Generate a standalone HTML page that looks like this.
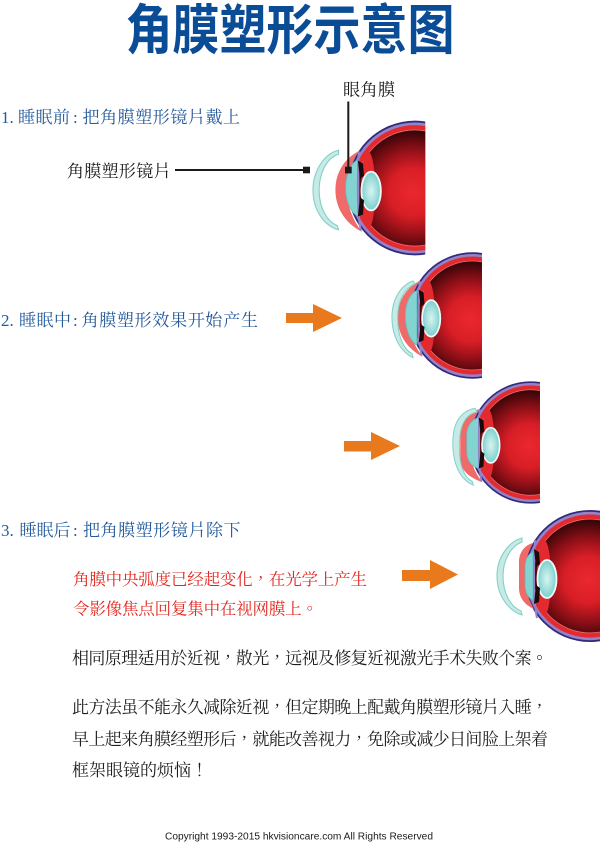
<!DOCTYPE html>
<html>
<head>
<meta charset="utf-8">
<style>
html,body{margin:0;padding:0;background:#fff;}
svg{display:block;}
</style>
</head>
<body>
<svg width="600" height="844" viewBox="0 0 600 844" xmlns="http://www.w3.org/2000/svg">
<defs>
  <radialGradient id="inner" gradientUnits="userSpaceOnUse" cx="-2" cy="4" r="62">
    <stop offset="0" stop-color="#ea282e"/>
    <stop offset="0.38" stop-color="#d81e26"/>
    <stop offset="0.68" stop-color="#8e0f17"/>
    <stop offset="1" stop-color="#2c0406"/>
  </radialGradient>
  <radialGradient id="lensg" cx="0.5" cy="0.5" r="0.5">
    <stop offset="0" stop-color="#d8f4f1"/>
    <stop offset="0.55" stop-color="#a6e1de"/>
    <stop offset="1" stop-color="#78cfcc"/>
  </radialGradient>
  <clipPath id="half" clipPathUnits="userSpaceOnUse">
    <rect x="-200" y="-100" width="210" height="200"/>
  </clipPath>
  <g id="gback">
    <circle r="66" fill="#302b7b"/>
    <circle r="64.2" fill="#9583c9"/>
    <circle r="61.6" fill="#e22a2f"/>
    <circle r="57.3" fill="#f06a6a"/>
    <circle r="56.5" fill="url(#inner)"/>
  </g>
  <g id="gfront">
    <ellipse cx="-46" cy="2" rx="7" ry="38" fill="#e22a2f"/>
    <path d="M-55,-36 C-56,-26 -56,-14 -56,0 C-56,14 -56,28 -53,42" fill="none" stroke="#9583c9" stroke-width="2"/>
    <ellipse cx="-43" cy="3" rx="9.5" ry="19" fill="url(#lensg)" stroke="#eefaf8" stroke-width="1.8"/>
    <path d="M-56,-27 L-51,-24 L-50,-12 L-54,-9 Z M-54,9 L-50,12 L-51,26 L-56,28 Z" fill="#1a0a0c"/>
  </g>
</defs>

<!-- Title -->
<text x="125.5" y="49" font-family="'Noto Sans CJK SC',sans-serif" font-weight="700" font-size="54" fill="#0b4c97" textLength="329" lengthAdjust="spacingAndGlyphs">角膜塑形示意图</text>

<!-- Headings -->
<g font-family="'Liberation Serif','Noto Serif CJK TC',serif" font-size="17" fill="#245a9c">
  <text x="1" y="123">1.</text>
  <text x="18" y="123" textLength="52">睡眠前</text>
  <text x="73" y="123">:</text>
  <text x="82.5" y="123" textLength="157.5">把角膜塑形镜片戴上</text>

  <text x="1" y="326">2.</text>
  <text x="19" y="326" textLength="52">睡眠中</text>
  <text x="73" y="326">:</text>
  <text x="81.5" y="326" textLength="176.5">角膜塑形效果开始产生</text>

  <text x="1" y="536">3.</text>
  <text x="19.5" y="536" textLength="51">睡眠后</text>
  <text x="73" y="536">:</text>
  <text x="83" y="536" textLength="157.5">把角膜塑形镜片除下</text>
</g>

<!-- Labels -->
<g font-family="'Liberation Serif','Noto Serif CJK TC',serif" font-size="17" fill="#1a1a1a">
  <text x="343" y="95.5" textLength="52">眼角膜</text>
  <text x="67" y="177" textLength="103.5">角膜塑形镜片</text>
</g>

<!-- Eye 1 -->
<g transform="translate(415,188) scale(1.02)">
  <g clip-path="url(#half)">
    <use href="#gback"/>
    <path d="M-55,-36 C-66,-31 -78,-18 -78,2 C-78,22 -66,36 -52,43 A66 66 0 0 1 -55,-36 Z" fill="#ef6a68"/>
    <path d="M-55,-28 C-62,-26 -68,-14 -68,0 C-68,14 -62,26 -55,28 Z" fill="#83d3d0" stroke="#62c0bd" stroke-width="0.8"/>
    <use href="#gfront"/>
    <path d="M-75,-37 C-88,-34 -100,-18 -100,2 C-100,22 -89,37 -75,41 L-76,37 C-86,33 -94,20 -94,2 C-94,-15 -86,-30 -75,-33 Z" fill="#c6ebe6" stroke="#86cfc7" stroke-width="1.1"/>
  </g>
</g>

<!-- Eye 2 -->
<g transform="translate(472.4,315.5) scale(0.958)">
  <g clip-path="url(#half)">
    <use href="#gback"/>
    <path d="M-55,-36 C-66,-31 -78,-18 -78,2 C-78,22 -66,36 -52,43 A66 66 0 0 1 -55,-36 Z" fill="#ef6a68"/>
    <path d="M-58,-26 C-64,-24 -70,-14 -70,0 C-70,14 -65,27 -58,31 Z" fill="#83d3d0" stroke="#62c0bd" stroke-width="0.8"/>
    <use href="#gfront"/>
    <path d="M-62,-36 C-74,-32 -84,-18 -84,2 C-84,22 -75,38 -62,44 L-63,40 C-72,35 -78,22 -78,2 C-78,-16 -71,-28 -60,-33 Z" fill="#c6ebe6" stroke="#86cfc7" stroke-width="1.1"/>
  </g>
</g>

<!-- Eye 3 -->
<g transform="translate(530.7,442.5) scale(0.927)">
  <g clip-path="url(#half)">
    <use href="#gback"/>
    <path d="M-55,-36 C-66,-33 -76,-28 -76,-16 L-76,18 C-76,30 -66,38 -52,43 A66 66 0 0 1 -55,-36 Z" fill="#ef6a68"/>
    <path d="M-55,-27 C-63,-26 -69,-18 -69,-8 L-69,10 C-69,20 -63,27 -55,28 Z" fill="#83d3d0" stroke="#62c0bd" stroke-width="0.8"/>
    <use href="#gfront"/>
    <path d="M-60,-37 C-75,-34 -84,-22 -84,0 C-84,24 -76,40 -62,46 L-63,42 C-73,37 -77,24 -77,4 C-77,-18 -71,-30 -58,-33 Z" fill="#c6ebe6" stroke="#86cfc7" stroke-width="1.1"/>
  </g>
</g>

<!-- Eye 4 -->
<g transform="translate(590,576) scale(1.0)">
  <g clip-path="url(#half)">
    <use href="#gback"/>
    <path d="M-57,-33 C-65,-31 -71,-24 -71,-14 L-71,12 C-71,22 -65,29 -56,33 A66 66 0 0 1 -57,-33 Z" fill="#ef6a68"/>
    <path d="M-57,-24 C-62,-22 -65,-16 -65,-8 L-65,8 C-65,16 -62,22 -57,24 Z" fill="#83d3d0" stroke="#62c0bd" stroke-width="0.8"/>
    <use href="#gfront"/>
    <path d="M-68,-38 C-80,-35 -93,-20 -93,0 C-93,20 -81,35 -68,39 L-69,35 C-79,31 -87,18 -87,0 C-87,-16 -79,-30 -68,-34 Z" fill="#c6ebe6" stroke="#86cfc7" stroke-width="1.1"/>
  </g>
</g>

<!-- Label connectors -->
<line x1="175" y1="170" x2="305" y2="170" stroke="#1a1a1a" stroke-width="2"/>
<rect x="303" y="166.7" width="7" height="6.6" fill="#1a1a1a"/>
<line x1="348.3" y1="101.5" x2="348.3" y2="168" stroke="#1a1a1a" stroke-width="2"/>
<rect x="345" y="166.7" width="6.7" height="6.7" fill="#1a1a1a"/>

<!-- Orange arrows -->
<g fill="#e8791c">
  <path d="M286,313 H313 V304 L342,318 L313,332 V323 H286 Z"/>
  <path d="M344,441 H371 V432 L400,446 L371,460 V451.5 H344 Z"/>
  <path d="M402,570 H430 V560 L458,574.5 L430,589 V581 H402 Z"/>
</g>

<!-- Red text -->
<g font-family="'Liberation Serif','Noto Serif CJK TC',serif" font-size="16.5" fill="#e3271f">
  <text x="73" y="585" textLength="294">角膜中央弧度已经起变化，在光学上产生</text>
  <text x="73" y="614.5" textLength="245">令影像焦点回复集中在视网膜上。</text>
</g>

<!-- Black paragraphs -->
<g font-family="'Liberation Serif','Noto Serif CJK TC',serif" font-size="17" fill="#1e1e1e">
  <text x="72" y="664" textLength="476">相同原理适用於近视，散光，远视及修复近视激光手术失败个案。</text>
  <text x="72" y="713" textLength="476">此方法虽不能永久减除近视，但定期晚上配戴角膜塑形镜片入睡，</text>
  <text x="72" y="745" textLength="476">早上起来角膜经塑形后，就能改善视力，免除或减少日间脸上架着</text>
  <text x="72" y="776" textLength="136">框架眼镜的烦恼！</text>
</g>

<!-- Copyright -->
<text x="165" y="839.3" font-family="'Liberation Sans',sans-serif" font-size="10" fill="#1a1a1a" textLength="268" lengthAdjust="spacingAndGlyphs">Copyright 1993-2015 hkvisioncare.com All Rights Reserved</text>
</svg>
</body>
</html>
